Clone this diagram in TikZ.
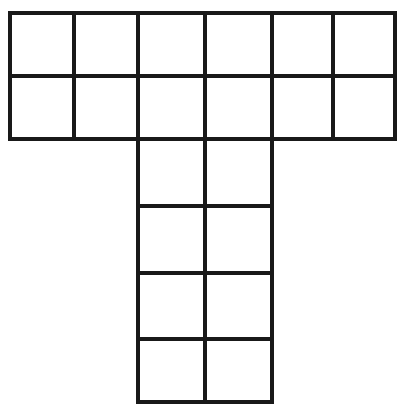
\documentclass[tikz,border=0pt]{standalone}
\begin{document}
\begin{tikzpicture}[x=1pt,y=-1pt,gridline/.style={line width=3.6pt,line cap=rect,black!90}]
\useasboundingbox (0,0) rectangle (399,404);
% top block: 6 columns x 2 rows
\draw[gridline] (10,13) -- (395,13);
\draw[gridline] (10,76) -- (395,76);
\draw[gridline] (10,139) -- (395,139);
\foreach \x in {10,74,138,205,272,333,395}
  \draw[gridline] (\x,13) -- (\x,139);
% stem: 2 columns x 4 rows
\foreach \y in {206,273,339,402}
  \draw[gridline] (138,\y) -- (272,\y);
\foreach \x in {138,205,272}
  \draw[gridline] (\x,139) -- (\x,402);
\end{tikzpicture}
\end{document}
